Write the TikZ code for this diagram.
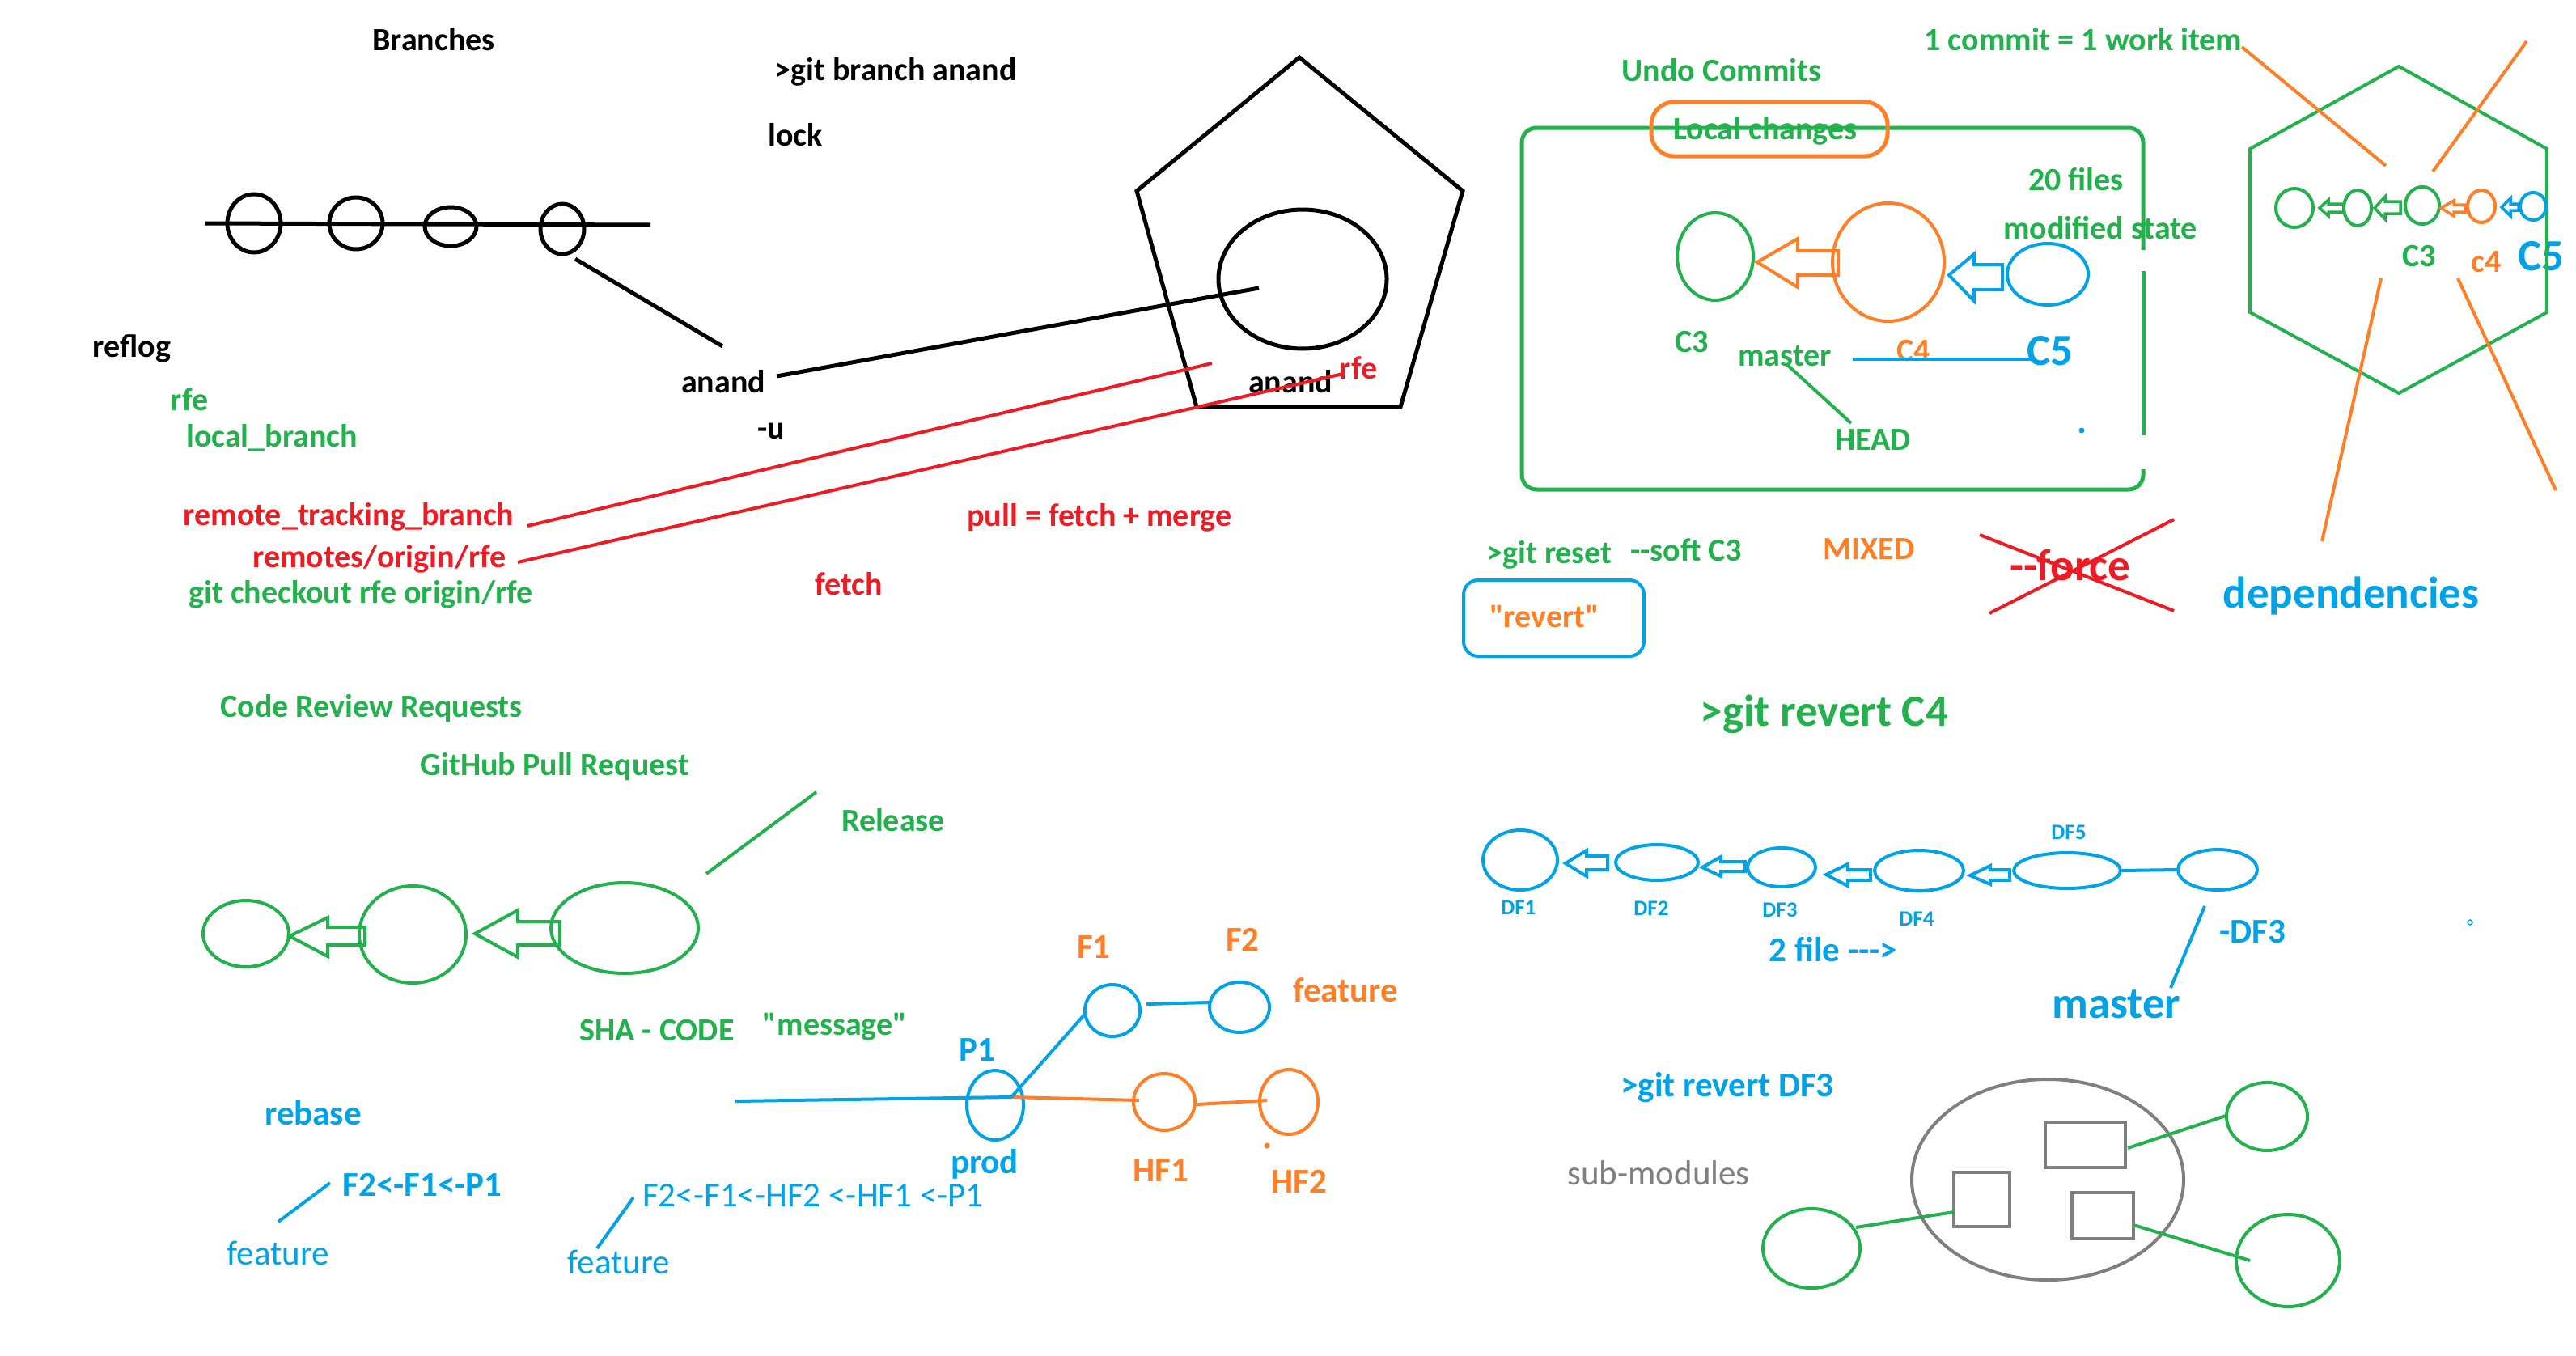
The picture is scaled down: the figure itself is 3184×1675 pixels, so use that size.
\documentclass[tikz,border=0pt]{standalone}
\usepackage{fontspec}
\newfontfamily\cf{Carlito}
\usetikzlibrary{shapes.geometric}
\definecolor{pgreen}{HTML}{22B14C}
\definecolor{pred}{HTML}{ED1C24}
\definecolor{porange}{HTML}{FF7F27}
\definecolor{pblue}{HTML}{00A2E8}
\definecolor{pgray}{HTML}{7F7F7F}
\newcommand{\blkarrow}[9]{\draw[#1] (#2,#3) -- (#4,#5) -- (#4,#7) -- (#9,#7) -- (#9,#8) -- (#4,#8) -- (#4,#6) -- cycle;}
\begin{document}
\begin{tikzpicture}[x=1pt,y=-1pt,
  t/.style={inner sep=0pt,font=\cf\fontsize{40}{48}\selectfont\bfseries},
  tb/.style={inner sep=0pt,font=\cf\fontsize{55}{66}\selectfont\bfseries},
  tm/.style={inner sep=0pt,font=\cf\fontsize{43}{52}\selectfont\bfseries},
  ts/.style={inner sep=0pt,font=\cf\fontsize{27}{32}\selectfont\bfseries},
  tr/.style={inner sep=0pt,font=\cf\fontsize{43}{52}\selectfont},
  ell/.style={ellipse,draw,line width=5pt,inner sep=0pt},
  ellt/.style={ellipse,draw,line width=4pt,inner sep=0pt},
  ln/.style={line width=5pt},
  lnt/.style={line width=4pt},
  lnx/.style={line width=3.5pt}]
\fill[white] (0,0) rectangle (3184,1675);
\useasboundingbox (0,0) rectangle (3184,1675);

% ---------------- texts ----------------
\node[t] (tBranches) at (536,49) {Branches};
\node[t] (tgitbranch) at (1107,89) {>git branch anand};
\node[t] (tlock) at (983,167) {lock};
\node[t] (treflog) at (163,431) {reflog};
\node[t] (tanand) at (894,472) {anand};
\node[t] (tu) at (953,533) {-u};
\node[t] (tanand2) at (1595,472) {anand};
\node[t,pgreen] (trfe) at (234,494) {rfe};
\node[t,pgreen] (tlocal) at (336,541) {local\_branch};
\node[t,pgreen] (tcheckout) at (446,735) {git checkout rfe origin/rfe};
\node[t,pred] (tremote) at (431,639) {remote\_tracking\_branch};
\node[t,pred] (tremotes) at (469,691) {remotes/origin/rfe};
\node[t,pred] (trfe2) at (1679,455) {rfe};
\node[t,pred] (tpull) at (1359,640) {pull = fetch + merge};
\node[t,pred] (tfetch) at (1049,722) {fetch};

\node[t,pgreen] (tundo) at (2128,87) {Undo Commits};
\node[t,pgreen] (tcommit) at (2575,49) {1 commit = 1 work item};
\node[t,pgreen] (tlocalch) at (2182,162) {Local changes};
\node[t,pgreen] (t20) at (2566,222) {20 files};
\node[t,pgreen] (tmod) at (2596,282) {modified state};
\node[t,pgreen] (tC3) at (2091,423) {C3};
\node[t,pgreen] (tmaster) at (2206,440) {master};
\node[t,porange] (tC4) at (2365,434) {C4};
\node[tb,pblue] (tC5) at (2534,434) {C5};
\node[t,pgreen] (tHEAD) at (2315,544) {HEAD};
\node[t,pgreen] (treset) at (1915,686) {>git reset};
\node[t,pgreen] (tsoft) at (2084,680) {--soft C3};
\node[t,porange] (tmixed) at (2310,679) {MIXED};
\node[tb,pred] (tforce) at (2559,699) {--force};
\node[t,porange] (trevert) at (1909,762) {"revert"};
\node[tb,pblue] (tdep) at (2906,737) {dependencies};
\node[t,pgreen] (thC3) at (2990,317) {C3};
\node[t,porange] (thc4) at (3073,324) {c4};
\node[tb,pblue] (thC5) at (3141,317) {C5};

\node[t,pgreen] (tcode) at (459,876) {Code Review Requests};
\node[t,pgreen] (tgithub) at (686,948) {GitHub Pull Request};
\node[t,pgreen] (trelease) at (1104,1014) {Release};
\node[t,pgreen] (tsha) at (812,1274) {SHA - CODE};
\node[t,pgreen] (tmsg) at (1032,1269) {"message"};
\node[tm,pblue] (trebase) at (387,1376) {rebase};
\node[tm,pblue] (tf2p1) at (522,1464) {F2<-F1<-P1};
\node[tr,pblue] (tfeat1) at (344,1549) {feature};
\node[tr,pblue] (tfeat2) at (765,1560) {feature};
\node[tr,pblue] (tchain) at (1005,1478) {F2<-F1<-HF2 <-HF1 <-P1};
\node[tm,pblue] (tP1) at (1208,1298) {P1};
\node[tm,pblue] (tprod) at (1217,1439) {prod};
\node[tm,porange] (tF1) at (1352,1171) {F1};
\node[tm,porange] (tF2) at (1536,1161) {F2};
\node[tm,porange] (tfeat3) at (1663,1224) {feature};
\node[tm,porange] (tHF1) at (1435,1447) {HF1};
\node[tm,porange] (tHF2) at (1606,1460) {HF2};

\node[tb,pgreen] (trevC4) at (2255,883) {>git revert C4};
\node[ts,pblue] (tDF1) at (1877,1122) {DF1};
\node[ts,pblue] (tDF2) at (2041,1123) {DF2};
\node[ts,pblue] (tDF3) at (2200,1125) {DF3};
\node[ts,pblue] (tDF4) at (2369,1136) {DF4};
\node[ts,pblue] (tDF5) at (2557,1029) {DF5};
\node[tm,pblue] (t2file) at (2266,1174) {2 file --->};
\node[tm,pblue] (tmDF3) at (2784,1152) {-DF3};
\node[tb,pblue] (tmaster2) at (2616,1241) {master};
\node[tm,pblue] (trevDF3) at (2135,1344) {>git revert DF3};
\node[tr,pgray] (tsub) at (2050,1450) {sub-modules};

% ---------------- branches (top left) ----------------
\coordinate (bl0) at (253,276);
\coordinate (bl1) at (804,278);
\draw[ln] (bl0) -- (bl1);
\node[ell,minimum width=66,minimum height=72] (b1) at (314,276) {};
\node[ell,minimum width=66,minimum height=64] (b2) at (440,276) {};
\node[ell,minimum width=64,minimum height=48] (b3) at (557,280) {};
\node[ell,minimum width=54,minimum height=62] (b4) at (695,283) {};
\coordinate (b4l) at (711,320);
\coordinate (anl) at (893,428);
\draw[ln] (b4l) -- (anl);

% pentagon
\draw[ln] (1606,71) -- (1808,236) -- (1731,503) -- (1479,503) -- (1405,236) -- cycle;
\node[ell,minimum width=208,minimum height=172] (pc) at (1610,345) {};
\coordinate (an2) at (960,465);
\coordinate (pcc) at (1556,356);
\draw[ln] (an2) -- (pcc);
\coordinate (r1a) at (652,650);
\coordinate (r1b) at (1498,449);
\coordinate (r2a) at (640,695);
\coordinate (r2b) at (1660,462);
\draw[lnt,pred] (r1a) -- (r1b);
\draw[lnt,pred] (r2a) -- (r2b);

% ---------------- undo commits box ----------------
\draw[ln,pgreen,rounded corners=18] (2649,309) -- (2649,158) -- (1881,158) -- (1881,605) -- (2649,605) -- (2649,580);
\draw[ln,pgreen] (2649,335) -- (2649,538);
\draw[ln,porange,rounded corners=28] (2041,126) rectangle (2333,193);
\node[ellt,pgreen,minimum width=94,minimum height=108] (bC3) at (2120,317) {};
\node[ellt,porange,minimum width=138,minimum height=146] (bC4) at (2334,324) {};
\node[ellt,pblue,minimum width=100,minimum height=76] (bC5) at (2531,339) {};
\blkarrow{lnt,porange}{2172}{324}{2222}{295}{355}{310}{340}{2272}
\blkarrow{lnt,pblue}{2409}{340}{2440}{314}{372}{327}{358}{2475}
\coordinate (bl2) at (2290,444);
\coordinate (bl3) at (2510,444);
\draw[lnt,pblue] (bl2) -- (bl3);
\coordinate (mh1) at (2208,450);
\coordinate (mh2) at (2288,523);
\draw[lnt,pgreen] (mh1) -- (mh2);
\fill[pblue] (2573,532) circle (3.5);
\draw[lnt,pblue,rounded corners=18] (1809,717) rectangle (2032,811);
\coordinate (x1a) at (2447,661);
\coordinate (x1b) at (2687,755);
\coordinate (x2a) at (2459,758);
\coordinate (x2b) at (2687,642);
\draw[lnt,pred] (x1a) -- (x1b);
\draw[lnt,pred] (x2a) -- (x2b);

% ---------------- hexagon ----------------
\draw[lnt,pgreen] (2965,82) -- (3148,184) -- (3148,386) -- (2965,486) -- (2781,386) -- (2781,184) -- cycle;
\node[ellt,pgreen,minimum width=46,minimum height=48] (h1) at (2836,257) {};
\node[ellt,pgreen,minimum width=34,minimum height=44] (h2) at (2914,257) {};
\node[ellt,pgreen,minimum width=42,minimum height=46] (h3) at (2994,254) {};
\node[ellt,porange,minimum width=34,minimum height=40] (h4) at (3067,255) {};
\node[ellt,pblue,minimum width=32,minimum height=34] (h5) at (3131,255) {};
\blkarrow{lnx,pgreen}{2867}{257}{2878}{247}{267}{252}{262}{2897}
\blkarrow{lnx,pgreen}{2935}{257}{2948}{243}{271}{249}{264}{2967}
\blkarrow{lnx,porange}{3017}{257}{3033}{248}{267}{253}{262}{3047}
\blkarrow{lnx,pblue}{3092}{256}{3103}{245}{267}{252}{260}{3113}
\coordinate (o1a) at (2771,58);
\coordinate (o1b) at (2949,205);
\coordinate (o2a) at (3123,51);
\coordinate (o2b) at (3007,212);
\coordinate (o3a) at (2943,344);
\coordinate (o3b) at (2870,669);
\coordinate (o4a) at (3038,344);
\coordinate (o4b) at (3159,606);
\draw[lnt,porange] (o1a) -- (o1b);
\draw[lnt,porange] (o2a) -- (o2b);
\draw[lnt,porange] (o3a) -- (o3b);
\draw[lnt,porange] (o4a) -- (o4b);

% ---------------- code review chain ----------------
\node[ellt,pgreen,minimum width=106,minimum height=82] (g1) at (304,1154) {};
\node[ellt,pgreen,minimum width=132,minimum height=120] (g2) at (510,1155) {};
\node[ellt,pgreen,minimum width=182,minimum height=112] (g3) at (772,1147) {};
\blkarrow{lnt,pgreen}{358}{1157}{405}{1134}{1182}{1146}{1168}{451}
\blkarrow{lnt,pgreen}{587}{1154}{640}{1125}{1183}{1139}{1168}{692}
\coordinate (rl1) at (873,1080);
\coordinate (rl2) at (1009,979);
\draw[lnt,pgreen] (rl1) -- (rl2);
\coordinate (fl1) at (408,1462);
\coordinate (fl2) at (344,1510);
\draw[lnt,pblue] (fl1) -- (fl2);
\coordinate (fl3) at (783,1480);
\coordinate (fl4) at (738,1543);
\draw[lnt,pblue] (fl3) -- (fl4);

% ---------------- prod / feature graph ----------------
\node[ellt,pblue,minimum width=70,minimum height=86] (P1) at (1230,1366) {};
\node[ellt,pblue,minimum width=68,minimum height=64] (F1) at (1375,1249) {};
\node[ellt,pblue,minimum width=74,minimum height=62] (F2) at (1532,1245) {};
\node[ellt,porange,minimum width=76,minimum height=70] (HF1) at (1439,1362) {};
\node[ellt,porange,minimum width=72,minimum height=80] (HF2) at (1593,1362) {};
\coordinate (m0) at (909,1361);
\coordinate (p1c) at (1250,1356);
\coordinate (hf1w) at (1408,1360);
\coordinate (hf1e) at (1480,1365);
\coordinate (hf2w) at (1566,1360);
\coordinate (f1w) at (1343,1251);
\coordinate (f1e) at (1417,1241);
\coordinate (f2w) at (1496,1239);
\draw[lnt,pblue] (m0) -- (p1c);
\draw[lnt,porange] (p1c) -- (hf1w);
\draw[lnt,porange] (hf1e) -- (hf2w);
\draw[lnt,pblue] (p1c) -- (f1w);
\draw[lnt,pblue] (f1e) -- (f2w);
\fill[porange] (1566,1416) circle (3.5);

% ---------------- DF chain ----------------
\node[ellt,pblue,minimum width=92,minimum height=74] (DF1) at (1879,1063) {};
\node[ellt,pblue,minimum width=102,minimum height=44] (DF2) at (2048,1066) {};
\node[ellt,pblue,minimum width=84,minimum height=48] (DF3) at (2202,1072) {};
\node[ellt,pblue,minimum width=110,minimum height=50] (DF4) at (2372,1076) {};
\node[ellt,pblue,minimum width=132,minimum height=44] (DF5) at (2555,1076) {};
\node[ellt,pblue,minimum width=98,minimum height=50] (DF6) at (2741,1075) {};
\blkarrow{lnt,pblue}{1935}{1067}{1961}{1051}{1083}{1058}{1075}{1987}
\blkarrow{lnt,pblue}{2104}{1072}{2127}{1059}{1083}{1065}{1077}{2157}
\blkarrow{lnt,pblue}{2257}{1081}{2284}{1068}{1095}{1075}{1088}{2312}
\blkarrow{lnt,pblue}{2435}{1082}{2460}{1070}{1093}{1075}{1088}{2484}
\draw[lnt,pblue] (DF5.east) -- (DF6.west);
\coordinate (ml1) at (2725,1120);
\coordinate (ml2) at (2683,1221);
\draw[lnt,pblue] (ml1) -- (ml2);
\draw[line width=1.5pt,pblue] (3053,1140) circle (3);

% ---------------- sub-modules ----------------
\node[ellt,pgray,minimum width=336,minimum height=248] (sm) at (2531,1458) {};
\node[draw,pgray,line width=4pt,inner sep=0pt,minimum width=99,minimum height=56] (sr1) at (2577.5,1415) {};
\node[draw,pgray,line width=4pt,inner sep=0pt,minimum width=69,minimum height=67] (sr2) at (2449.5,1482.5) {};
\node[draw,pgray,line width=4pt,inner sep=0pt,minimum width=76,minimum height=57] (sr3) at (2599,1502.5) {};
\node[ellt,pgreen,minimum width=100,minimum height=84] (sg1) at (2802,1380) {};
\node[ellt,pgreen,minimum width=120,minimum height=98] (sg2) at (2239,1543) {};
\node[ellt,pgreen,minimum width=128,minimum height=114] (sg3) at (2828,1558) {};
\coordinate (s1a) at (2630,1419);
\coordinate (s1b) at (2751,1379);
\coordinate (s2a) at (2415,1498);
\coordinate (s2b) at (2294,1517);
\coordinate (s3a) at (2637,1514);
\coordinate (s3b) at (2781,1558);
\draw[lnt,pgreen] (s1a) -- (s1b);
\draw[lnt,pgreen] (s2a) -- (s2b);
\draw[lnt,pgreen] (s3a) -- (s3b);
\end{tikzpicture}
\end{document}
